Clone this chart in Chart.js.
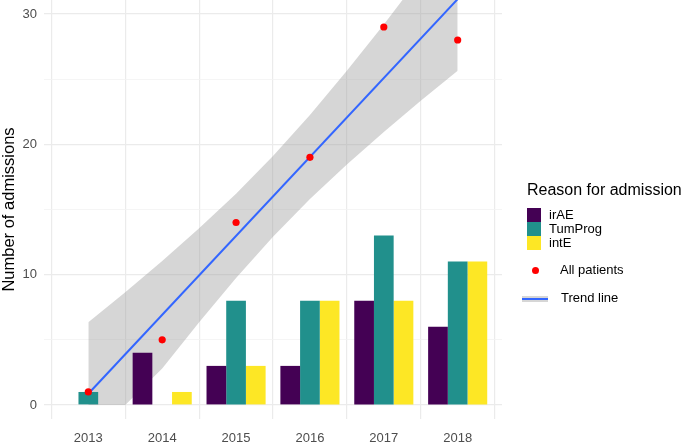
<!DOCTYPE html>
<html>
<head>
<meta charset="utf-8">
<script src="https://cdn.jsdelivr.net/npm/chart.js@4/dist/chart.umd.min.js"></script>
<style>
  html, body { margin: 0; padding: 0; background: #ffffff; }
  #wrap { position: relative; width: 685px; height: 443px; font-family: "Liberation Sans", Arial, sans-serif; }
  #legend { position: absolute; left: 527px; top: 181px; color: #000; }
  .ltitle { font-size: 16px; position: absolute; left: 0; top: 0; white-space: nowrap; }
  .litem { position: absolute; font-size: 13px; white-space: nowrap; }
  .sw { position: absolute; width: 14px; height: 14px; }
</style>
</head>
<body>
<div id="wrap">
  <canvas id="c" width="685" height="443"></canvas>
  <div id="legend"></div>
</div>
<script>
// ---- data ----
const years = [2013, 2014, 2015, 2016, 2017, 2018];
const irAE = [0, 4, 3, 3, 8, 6];
const tumProg = [1, 0, 8, 8, 13, 11];
const intE = [0, 1, 3, 8, 8, 11];
const allPatients = [1, 5, 14, 19, 29, 28];
// trend line (fitted) end values
const trendYears = [2013, 2018];
const trendValues = [0.86, 31.14];
// confidence band read at half-year steps
const bandYears = [2013, 2013.5, 2014, 2014.5, 2015, 2015.5, 2016, 2016.5, 2017, 2017.5, 2018];
const bandLower = [0, 0, 2.8, 6.35, 9.75, 12.9, 15.8, 18.45, 20.95, 23.35, 25.65];
const bandUpper = [6.35, 8.65, 11.05, 13.55, 16.2, 19.1, 22.25, 25.65, 29.2, 32.9, 36.6];
const seriesNames = ['irAE', 'TumProg', 'intE'];
const yTicks = [0, 5, 10, 15, 20, 25, 30];
const yLabelTicks = [0, 10, 20, 30];

const colors = ['#440154', '#21908C', '#FDE725'];
const pts = (xs, ys) => xs.map((x, i) => ({ x: x, y: ys[i] }));

const barSets = [irAE, tumProg, intE].map((vals, i) => ({
  type: 'bar',
  label: seriesNames[i],
  data: pts(years, vals),
  backgroundColor: colors[i],
  borderWidth: 0,
  categoryPercentage: 0.8,
  barPercentage: 1.0,
  order: 3
}));

const datasets = [
  ...barSets,
  {
    type: 'line', label: 'bandLower', data: pts(bandYears, bandLower),
    borderWidth: 0, pointRadius: 0, fill: false, tension: 0, order: 4,
    borderColor: 'rgba(0,0,0,0)'
  },
  {
    type: 'line', label: 'bandUpper', data: pts(bandYears, bandUpper),
    borderWidth: 0, pointRadius: 0, fill: '-1', tension: 0, order: 4,
    borderColor: 'rgba(0,0,0,0)', backgroundColor: 'rgba(153,153,153,0.4)'
  },
  {
    type: 'line', label: 'All patients', data: pts(years, allPatients),
    showLine: false, pointRadius: 3.6, pointBorderWidth: 0,
    pointBackgroundColor: '#ff0000', pointBorderColor: '#ff0000', order: 2
  },
  {
    type: 'line', label: 'Trend line', data: pts(trendYears, trendValues),
    borderColor: '#3366FF', borderWidth: 2, pointRadius: 0, fill: false, order: 2.5
  }
];

// pin the plot panel to the top edge of the canvas, like the reference
const pinTop = {
  id: 'pinTop',
  afterLayout(chart) {
    chart.chartArea.top = 0;
    chart.chartArea.height = chart.chartArea.bottom;
    const y = chart.scales.y;
    y.top = 0;
    y.height = y.bottom - y.top;
    y.configure();
  }
};

new Chart(document.getElementById('c'), {
  type: 'bar',
  data: { datasets: datasets },
  plugins: [pinTop],
  options: {
    responsive: false,
    animation: false,
    events: [],
    layout: { padding: { left: 0, right: 183, top: 0, bottom: 0 } },
    plugins: { legend: { display: false }, tooltip: { enabled: false } },
    scales: {
      x: {
        type: 'linear', min: 2012.4, max: 2018.6, offset: false,
        afterBuildTicks: (s) => { s.ticks = years.map(v => ({ value: v })); },
        afterFit: (s) => { s.height = 24; s.paddingLeft = 0; s.paddingRight = 0; },
        ticks: { callback: (v) => String(v), color: '#4d4d4d', font: { size: 13, family: 'Liberation Sans' }, padding: 12, maxRotation: 0 },
        grid: { color: '#ebebeb', lineWidth: 1.2, drawTicks: false },
        border: { display: false }
      },
      y: {
        type: 'linear', min: -1.074, max: 31.07,
        afterBuildTicks: (s) => { s.ticks = yTicks.map(v => ({ value: v })); },
        afterFit: (s) => { s.width = 44; s.paddingTop = 0; s.paddingBottom = 0; },
        ticks: {
          callback: (v) => yLabelTicks.includes(v) ? String(v) : '',
          color: '#4d4d4d', font: { size: 13, family: 'Liberation Sans' }, padding: 7
        },
        grid: {
          color: (ctx) => (ctx.tick && yLabelTicks.includes(ctx.tick.value)) ? '#ebebeb' : '#f2f2f2',
          lineWidth: (ctx) => (ctx.tick && yLabelTicks.includes(ctx.tick.value)) ? 1.2 : 0.8,
          drawTicks: false
        },
        border: { display: false },
        title: { display: true, text: 'Number of admissions', color: '#000', font: { size: 16.5, family: 'Liberation Sans' }, padding: { top: 0, bottom: 0 } }
      }
    }
  }
});

// ---- legend (HTML) ----
const lg = document.getElementById('legend');
let html = '<div class="ltitle">Reason for admission</div>';
seriesNames.forEach((n, i) => {
  const top = 27 + i * 14;
  html += '<div class="sw" style="left:0;top:' + top + 'px;background:' + colors[i] + '"></div>';
  html += '<div class="litem" style="left:22px;top:' + (top - 1) + 'px">' + n + '</div>';
});
html += '<div style="position:absolute;left:5px;top:86px;width:7px;height:7px;border-radius:50%;background:#ff0000"></div>';
html += '<div class="litem" style="left:33px;top:81px">All patients</div>';
html += '<div style="position:absolute;left:-5px;top:115px;width:26px;height:6px;background:#d6d6d6"></div>';
html += '<div style="position:absolute;left:-5px;top:117px;width:26px;height:2px;background:#3366FF"></div>';
html += '<div class="litem" style="left:34px;top:109px">Trend line</div>';
lg.innerHTML = html;
</script>
</body>
</html>
